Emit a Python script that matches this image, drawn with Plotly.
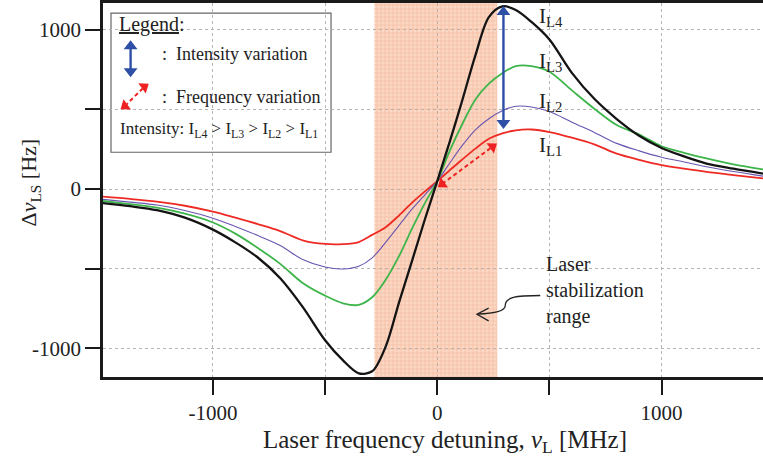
import plotly.graph_objects as go

# ---------------- data ----------------
detuning = [-1490, -1370, -1250, -1125, -1000, -900, -800, -700, -600, -500, -420, -350, -290, -230,
            -170, -110, -55, 0, 55, 110, 170, 230, 290, 350, 420, 500, 600, 700, 800, 900, 1000,
            1100, 1200, 1320, 1452]
shift_IL1 = [-48, -62, -79, -105, -142, -180, -220, -264, -322, -345, -346, -333, -288, -240,
             -165, -82, -15, 50, 117, 184, 254, 316, 350, 369, 374, 358, 323, 281, 222, 183, 150,
             128, 108, 88, 67]
shift_IL2 = [-65, -82, -100, -135, -183, -235, -292, -355, -443, -490, -502, -485, -432, -335,
             -228, -122, -36, 50, 162, 271, 372, 442, 492, 520, 516, 487, 420, 356, 287, 240, 200,
             170, 140, 110, 81]
shift_IL3 = [-75, -95, -117, -155, -210, -280, -370, -470, -590, -670, -718, -728, -680, -570,
             -420, -241, -88, 50, 238, 404, 563, 662, 728, 772, 772, 737, 620, 505, 402, 343, 269,
             228, 192, 155, 123]
shift_IL4 = [-88, -108, -133, -180, -255, -335, -430, -560, -740, -950, -1077, -1158, -1145, -990,
             -710, -440, -190, 50, 295, 550, 840, 1080, 1148, 1125, 1050, 940, 730, 567, 440, 335, 258,
             205, 160, 128, 97]

series_names = ["I<sub>L1</sub>", "I<sub>L2</sub>", "I<sub>L3</sub>", "I<sub>L4</sub>"]
series_colors = ["#ee2a24", "#6a55b0", "#3db54a", "#141414"]
series_widths = [1.8, 1.1, 1.8, 2.3]
label_y = [269, 550, 800, 1081]

stab_range = [-280, 268]
x_range = [-1490, 1452]
y_range = [-1181, 1169]
major_ticks = [-1000, 0, 1000]
major_text = ["-1000", "0", "1000"]
minor_ticks = [-1000, -500, 0, 500, 1000]

# arrows: [x0, y0, x1, y1]
intensity_arrow = [295, 415, 295, 1112]
intensity_key = [-1367, 740, -1367, 898]
freq_arrow = [22, 32, 246, 266]
freq_key = [-1392, 522, -1306, 642]
arrow_angle = 54  # direction of frequency arrows on screen (deg, clockwise from up)

FONT = "Liberation Serif"
BLUE = "#2d4fa5"
RED = "#ee2222"
fig = go.Figure()

# textured overlay of the stabilization range (base colour is a shape below the grid)
fig.add_trace(go.Bar(x=[(stab_range[0] + stab_range[1]) / 2], width=[stab_range[1] - stab_range[0]],
                     base=[y_range[0]], y=[y_range[1] - y_range[0]],
                     marker=dict(color="rgba(0,0,0,0)", line=dict(width=0),
                                 pattern=dict(shape="+", fgcolor="#f0a27a", fgopacity=0.55,
                                              size=4, solidity=0.3, fillmode="overlay")),
                     showlegend=False, hoverinfo="skip"))

for name, ys, col, w in zip(series_names, [shift_IL1, shift_IL2, shift_IL3, shift_IL4],
                            series_colors, series_widths):
    fig.add_trace(go.Scatter(x=detuning, y=ys, mode="lines", name=name,
                             line=dict(color=col, width=w, shape="spline", smoothing=0.9),
                             showlegend=False, hoverinfo="skip"))

for a in (intensity_arrow, intensity_key):
    fig.add_trace(go.Scatter(x=[a[0], a[2]], y=[a[1], a[3]], mode="lines+markers",
                             line=dict(color=BLUE, width=2.4),
                             marker=dict(symbol=["triangle-down", "triangle-up"], size=12, color=BLUE),
                             showlegend=False, hoverinfo="skip"))
for a in (freq_arrow, freq_key):
    fig.add_trace(go.Scatter(x=[a[0], a[2]], y=[a[1], a[3]], mode="lines+markers",
                             line=dict(color=RED, width=2, dash="4px,3px"),
                             marker=dict(symbol="triangle-up", size=11, color=RED,
                                         angle=[arrow_angle + 180, arrow_angle]),
                             showlegend=False, hoverinfo="skip"))

for name, ly in zip(series_names, label_y):
    fig.add_annotation(x=445, y=ly, xref="x", yref="y", text=name, showarrow=False,
                       xanchor="left", yanchor="middle",
                       font=dict(family=FONT, size=21, color="#222"))

shapes = []
shapes.append(dict(type="rect", xref="x", yref="paper", x0=stab_range[0], x1=stab_range[1],
                   y0=0, y1=1, fillcolor="#fbd8c5", line=dict(width=0), layer="below"))
shapes.append(dict(type="rect", xref="paper", yref="paper", x0=0.0121, x1=0.3455, y0=0.601, y1=0.973,
                   fillcolor="white", line=dict(color="#666", width=1.2), layer="between"))
shapes.append(dict(type="path", xref="x", yref="y",
                   path="M 459 -669 C 347 -669 303 -681 303 -731 C 303 -763 258 -781 180 -785",
                   line=dict(color="#222", width=1.3)))
shapes.append(dict(type="path", xref="x", yref="y",
                   path="M 229 -748 L 177 -787 L 229 -828",
                   line=dict(color="#222", width=1.3)))
fig.update_layout(shapes=shapes)

fig.add_annotation(x=0.0212, y=0.9415, xref="paper", yref="paper", text="<u>Legend</u>:",
                   showarrow=False, xanchor="left", yanchor="middle", font=dict(family=FONT, size=20, color="#222"))
fig.add_annotation(x=0.0864, y=0.864, xref="paper", yref="paper", text=":  Intensity variation",
                   showarrow=False, xanchor="left", yanchor="middle", font=dict(family=FONT, size=18, color="#222"))
fig.add_annotation(x=0.0864, y=0.75, xref="paper", yref="paper", text=":  Frequency variation",
                   showarrow=False, xanchor="left", yanchor="middle", font=dict(family=FONT, size=18, color="#222"))
fig.add_annotation(x=0.0227, y=0.66, xref="paper", yref="paper",
                   text="Intensity: I<sub>L4</sub> > I<sub>L3</sub> > I<sub>L2</sub> > I<sub>L1</sub>",
                   showarrow=False, xanchor="left", yanchor="middle", font=dict(family=FONT, size=17, color="#222"))

fig.add_annotation(x=0.668, y=0.2314, xref="paper", yref="paper", text="Laser<br>stabilization<br>range",
                   showarrow=False, xanchor="left", yanchor="middle", align="left",
                   font=dict(family=FONT, size=20, color="#222"))

fig.add_annotation(x=-0.1106, y=0.52, xref="paper", yref="paper", text="Δ<i>ν</i><sub>LS</sub> [Hz]",
                   textangle=-90, showarrow=False, xanchor="center", yanchor="middle",
                   font=dict(family=FONT, size=22, color="#222"))
fig.add_annotation(x=0.518, y=-0.172, xref="paper", yref="paper",
                   text="Laser frequency detuning, <i>ν</i><sub>L</sub> [MHz]",
                   showarrow=False, xanchor="center", yanchor="middle",
                   font=dict(family=FONT, size=25, color="#222"))

axis_common = dict(showline=True, linewidth=2.5, linecolor="#1a1a1a", ticks="outside", ticklen=15,
                   tickwidth=2, tickcolor="#1a1a1a", showgrid=True, gridcolor="#b5b5b5", gridwidth=1,
                   griddash="3px,3px", zeroline=False, tickfont=dict(family=FONT, size=21, color="#222"),
                   tickmode="array", tickvals=major_ticks, ticktext=major_text,
                   minor=dict(tickmode="array", tickvals=minor_ticks, ticks="outside", ticklen=15,
                              tickwidth=2, tickcolor="#1a1a1a", showgrid=True, gridcolor="#b5b5b5",
                              gridwidth=1, griddash="3px,3px"))
fig.update_xaxes(range=x_range, mirror=True, **axis_common)
fig.update_yaxes(range=y_range, **axis_common)

fig.update_layout(width=763, height=470, margin=dict(l=103, r=0, t=1, b=93),
                  plot_bgcolor="white", paper_bgcolor="white", showlegend=False, bargap=0)

fig.write_html("out.html")
